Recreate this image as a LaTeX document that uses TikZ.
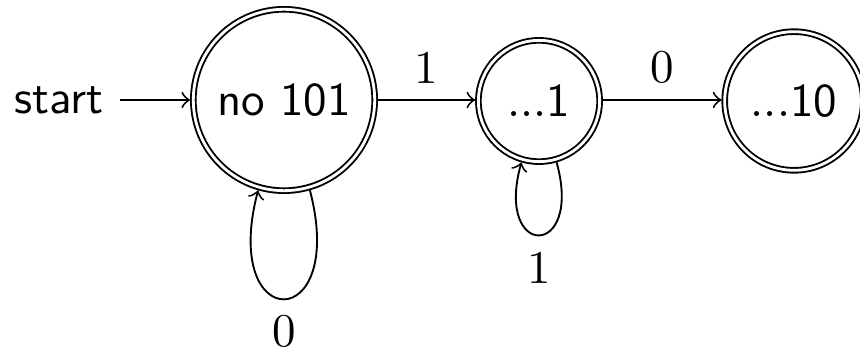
\documentclass[tikz,border=0pt]{standalone}
\begin{document}
\begin{tikzpicture}[x=0.2128pt,y=-0.2128pt,
  state/.style={circle,draw,double,double distance=0.6pt,inner sep=0pt,outer sep=0.7pt,font=\sffamily},
  lbl/.style={font=\rmfamily},
  edge/.style={->}]
\useasboundingbox (0,0) rectangle (860,351);
\node[font=\sffamily] (start) at (59,100) {start};
\node[state,minimum size=38.6pt] (n1) at (284,100) {no 101};
\node[state,minimum size=25.8pt] (n2) at (539,101) {{\rmfamily...}1};
\node[state,minimum size=29.5pt] (n3) at (794,101) {{\rmfamily...}10};
\draw[edge] (start) -- (n1);
\draw[edge] (n1) -- node[lbl,above] {1} (n2.west |- n1);
\draw[edge] (n2.east |- n1) -- node[lbl,above] {0} (n3.west |- n1);
\draw[edge] (n1.-74) .. controls +(38,145) and +(-38,145) .. node[lbl,below] {0} (n1.-106);
\draw[edge] (n2.-74) .. controls +(27,97) and +(-27,97) .. node[lbl,below] {1} (n2.-106);
\end{tikzpicture}
\end{document}
